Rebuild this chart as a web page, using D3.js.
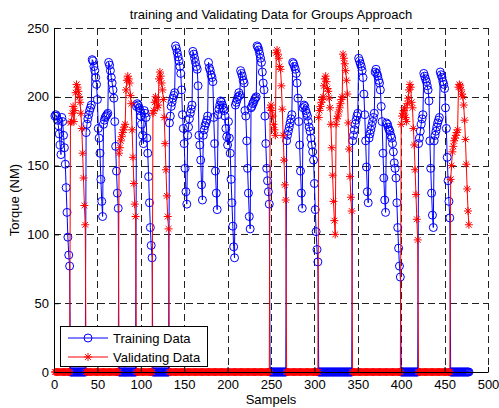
<!DOCTYPE html>
<html><head><meta charset="utf-8">
<script src="https://cdn.jsdelivr.net/npm/d3@7/dist/d3.min.js"></script>
<style>body{margin:0;background:#fff}svg{display:block}text{font-family:"Liberation Sans",Arial,sans-serif;font-size:13px;fill:#000}</style>
</head><body>
<script>
// ---- data ----
const title = "training and Validating Data for Groups Approach";
const xLabel = "Sampels";
const yLabel = "Torque (NM)";
const xTicks = [0,50,100,150,200,250,300,350,400,450,500];
const yTicks = [0,50,100,150,200,250];
const nSamples = 478;
const legendLabels = ["Training Data","Validating Data"];

// Training data: start sample of each group, and its values
const trainStarts = [1, 37, 95, 133, 268, 344, 420];
const train1 = [186,187,186,183,179,173,165,158,185,182,172,163,151,134,116,98,85,77];
const train2 = [174,180,184,187,190,192,194,227,226,222,
                219,214,209,198,177,170,159,140,124,113,
                180,183,185,186,187,188,225,223,219,214,
                210,205,199,182,164,146,130,119];
const train3 = [193,195,194,192,190,186,180,172,166,190,188,185,170,159,142,123,105,92,83];
const train4 = [181,186,193,196,199,201,203,237,235,232,
                229,226,222,217,205,187,177,166,148,131,
                122,172,178,184,188,191,194,233,231,228,
                225,222,220,208,172,165,154,136,125,172,
                176,179,181,183,186,225,221,219,216,214,
                211,185,166,146,130,118,187,191,194,197,
                196,194,192,190,186,177,171,165,182,170,
                159,140,123,106,91,83,194,196,198,200,
                203,201,219,217,215,212,210,190,186,168,
                148,130,113,104,192,193,195,196,198,199,
                200,237,236,234,231,228,225,218,210,205,
                186,166,148,139,131,122];
const train5 = [168,172,175,178,181,184,187,225,224,222,
                220,217,210,199,182,165,146,130,119,192,
                194,193,190,188,186,182,178,175,170,165,
                160,154,137,118,102,89,80];
const train6 = [168,172,176,180,183,186,188,228,226,224,
                222,219,214,202,187,168,149,131,123,170,
                173,176,179,182,185,188,218,220,217,215,
                212,210,205,193,182,159,141,125,116,181,
                180,178,176,175,172,170,166,160,152,148,
                141,123,105,90,77,69];
const train7 = [166,170,175,180,184,187,217,215,213,211,
                208,205,197,168,148,130,114,105,168,172,
                175,178,181,183,185,218,216,214,211,209,
                206,192,177,156,139,124,112];

// Validating data
const validStarts = [19, 75, 114, 249, 305, 400, 457];
const valid1 = [181,182,188,193,182,190,203,209,207,204,200,196,188,177,159,141,121,107];
const valid2 = [159,163,168,171,174,176,178,180,205,212,215,213,210,201,195,176,156,137,122,113];
const valid3 = [188,190,196,200,197,192,194,213,218,215,210,205,198,185,166,147,128,113,104];
const valid4 = [192,194,190,186,180,176,172,232,234,231,228,222,220,208,191,172,154,136,125];
const valid5 = [185,190,193,196,198,200,208,213,215,211,
                206,204,199,192,180,163,143,124,110,100,
                180,184,186,189,192,195,198,200,231,228,
                224,219,212,202,181,162,142,127,117];
const valid6 = [180,186,188,190,192,185,182,195,199,205,209,207,196,192,177,165,147,129,111,96];
const valid7 = [140,150,160,164,168,170,172,174,176,207,209,208,205,202,200,194,183,169,151,133,117,107];

const trainGroups = [train1,train2,train3,train4,train5,train6,train7];
const validGroups = [valid1,valid2,valid3,valid4,valid5,valid6,valid7];

function buildSeries(starts, groups){
  const s = d3.range(1, nSamples+1).map(i => ({x:i, y:0}));
  groups.forEach((g, k) => g.forEach((v, j) => {
    const idx = starts[k] + j - 1;
    if (idx < s.length) s[idx].y = v;
  }));
  return s;
}
const trainSeries = buildSeries(trainStarts, trainGroups);
const validSeries = buildSeries(validStarts, validGroups);

// ---- drawing ----
const W = 499, H = 408;
const m = {l:54, r:488, t:28, b:372};
const svg = d3.select("body").append("svg").attr("width", W).attr("height", H);
const x = d3.scaleLinear().domain([0,500]).range([m.l, m.r]);
const y = d3.scaleLinear().domain([0,250]).range([m.b, m.t]);

// grid
const grid = svg.append("g").attr("stroke","#222").attr("stroke-width",1).attr("stroke-dasharray","7,4").attr("fill","none");
xTicks.filter(t => t>0).forEach(t => grid.append("line")
  .attr("x1", Math.round(x(t))+0.5).attr("x2", Math.round(x(t))+0.5).attr("y1", m.t).attr("y2", m.b));
yTicks.filter(t => t>0).forEach(t => grid.append("line")
  .attr("y1", Math.round(y(t))+0.5).attr("y2", Math.round(y(t))+0.5).attr("x1", m.l).attr("x2", m.r));

const plot = svg.append("g");
const line = d3.line().x(d => x(d.x)).y(d => y(d.y));

function asteriskPath(r){
  const d = r*0.72;
  return `M${-r},0L${r},0M0,${-r}L0,${r}M${-d},${-d}L${d},${d}M${-d},${d}L${d},${-d}`;
}

// training
plot.append("path").datum(trainSeries).attr("d", line).attr("fill","none").attr("stroke","#0000ff").attr("stroke-width",1);
plot.append("g").selectAll("circle").data(trainSeries).join("circle")
  .attr("cx", d => x(d.x)).attr("cy", d => y(d.y)).attr("r", 4)
  .attr("fill","none").attr("stroke","#0000ff").attr("stroke-width",1);
// validating
plot.append("path").datum(validSeries).attr("d", line).attr("fill","none").attr("stroke","#ff0000").attr("stroke-width",1);
plot.append("g").selectAll("path").data(validSeries).join("path")
  .attr("transform", d => `translate(${x(d.x)},${y(d.y)})`).attr("d", asteriskPath(4))
  .attr("fill","none").attr("stroke","#ff0000").attr("stroke-width",1);

// axes
const xAxis = d3.axisBottom(x).tickValues(xTicks).tickSizeInner(-5).tickSizeOuter(0).tickPadding(8);
const yAxis = d3.axisLeft(y).tickValues(yTicks).tickSizeInner(-5).tickSizeOuter(0).tickPadding(5);
const gx = svg.append("g").attr("transform", `translate(0,${m.b})`).call(xAxis);
const gy = svg.append("g").attr("transform", `translate(${m.l},0)`).call(yAxis);
[gx, gy].forEach(g => {
  g.select(".domain").attr("stroke","#000");
  g.selectAll(".tick line").attr("stroke","#000");
  g.selectAll("text").attr("font-size",13).attr("font-family",'"Liberation Sans",Arial,sans-serif').attr("fill","#000");
});

// titles
svg.append("text").attr("x", (m.l+m.r)/2).attr("y", 19).attr("text-anchor","middle").text(title);
svg.append("text").attr("x", (m.l+m.r)/2).attr("y", 404).attr("text-anchor","middle").text(xLabel);
svg.append("text").attr("transform", `translate(18.5,${(m.t+m.b)/2}) rotate(-90)`).attr("text-anchor","middle").text(yLabel);

// legend
const lg = svg.append("g");
lg.append("rect").attr("x",60.5).attr("y",326.5).attr("width",147).attr("height",40).attr("fill","#fff").attr("stroke","#000");
const items = [{c:"#0000ff", t:"circle", yy:338}, {c:"#ff0000", t:"star", yy:357}];
items.forEach((it, i) => {
  lg.append("line").attr("x1",68).attr("x2",108).attr("y1",it.yy).attr("y2",it.yy).attr("stroke",it.c);
  if (it.t === "circle") lg.append("circle").attr("cx",88).attr("cy",it.yy).attr("r",4).attr("fill","none").attr("stroke",it.c);
  else lg.append("path").attr("transform",`translate(88,${it.yy})`).attr("d",asteriskPath(4)).attr("fill","none").attr("stroke",it.c);
  lg.append("text").attr("x",113).attr("y",it.yy+4.5).text(legendLabels[i]);
});
</script>
</body></html>
